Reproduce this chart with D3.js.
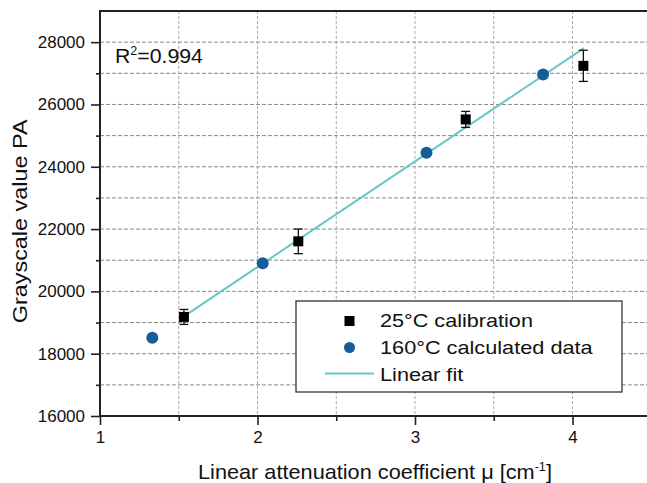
<!DOCTYPE html>
<html><head><meta charset="utf-8">
<script src="https://cdn.jsdelivr.net/npm/d3@7"></script>
<style>
html,body{margin:0;padding:0;background:#fff;}
svg{display:block;font-family:"Liberation Sans",Arial,sans-serif;}
</style></head>
<body><svg id="chart" width="647" height="483"></svg>
<script>
// Data
const calibX = [1.533, 2.259, 3.322, 4.069];
const calibY = [19180, 21606, 25520, 27240];
const calibErr = [240, 395, 257, 500];
const calcX = [1.332, 2.033, 3.073, 3.813];
const calcY = [18514, 20900, 24449, 26964];
const fitX = [1.533, 4.073];
const fitY = [19200, 27808];
const xTicks = [1, 2, 3, 4];
const yTicks = [16000, 18000, 20000, 22000, 24000, 26000, 28000];
const legendLabels = ["25°C calibration", "160°C calculated data", "Linear fit"];

const svg = d3.select("#chart");
const L = 100, T = 11, B = 416;
const x = d3.scaleLinear().domain([1, 4.5]).range([L, L + 3.5 * 157.5]);
const y = d3.scaleLinear().domain([16000, 29000]).range([B, T]);

function stretchText(sel, x0, y0, target, rotate) {
  const w = sel.node().getComputedTextLength();
  const sx = target / w;
  sel.attr("x", 0).attr("y", 0)
     .attr("transform", `translate(${x0},${y0})` + (rotate ? ` rotate(${rotate})` : "") + ` scale(${sx},1)`);
}

const gridColor = "#8a8a8a";
const g = svg.append("g");
d3.range(17000, 29000, 1000).forEach(v => {
  g.append("line").attr("x1", L).attr("x2", 647).attr("y1", y(v)).attr("y2", y(v))
   .attr("stroke", gridColor).attr("stroke-width", 1).attr("stroke-dasharray", "4,2");
});
[1.5, 2, 2.5, 3, 3.5, 4].forEach(v => {
  g.append("line").attr("x1", x(v)).attr("x2", x(v)).attr("y1", T).attr("y2", B)
   .attr("stroke", "#a8a8a8").attr("stroke-width", 1).attr("stroke-dasharray", "3,2");
});

const axisColor = "#222";
const yAxis = d3.axisLeft(y).tickValues(yTicks).tickSize(9).tickPadding(6).tickFormat(d3.format("d"));
const yMinor = d3.axisLeft(y).tickValues(d3.range(17000, 29000, 2000)).tickSize(4).tickFormat("");
const xAxis = d3.axisBottom(x).tickValues(xTicks).tickSize(9).tickPadding(6).tickFormat(d3.format("d"));
const xMinor = d3.axisBottom(x).tickValues([1.5, 2.5, 3.5]).tickSize(5).tickFormat("");

function styleAxis(sel) {
  sel.select(".domain").remove();
  sel.selectAll("line").attr("stroke", axisColor).attr("stroke-width", 1.6);
  sel.selectAll("text").attr("fill", "#111").style("font-size", "17px").style("font-family", "Liberation Sans, Arial, sans-serif");
}
svg.append("g").attr("transform", `translate(${L},0)`).call(yAxis).call(styleAxis);
svg.append("g").attr("transform", `translate(${L},0)`).call(yMinor).call(styleAxis);
svg.append("g").attr("transform", `translate(0,${B})`).call(xAxis).call(styleAxis);
svg.append("g").attr("transform", `translate(0,${B})`).call(xMinor).call(styleAxis);

svg.append("line").attr("x1", L).attr("x2", L).attr("y1", T).attr("y2", B).attr("stroke", axisColor).attr("stroke-width", 2);
svg.append("line").attr("x1", L - 1).attr("x2", 647).attr("y1", B).attr("y2", B).attr("stroke", axisColor).attr("stroke-width", 2);
svg.append("line").attr("x1", L - 1).attr("x2", 647).attr("y1", T).attr("y2", T).attr("stroke", axisColor).attr("stroke-width", 2);

const lineColor = "#66c7c5";
svg.append("path").datum(fitX.map((v, i) => [v, fitY[i]]))
  .attr("d", d3.line().x(d => x(d[0])).y(d => y(d[1])))
  .attr("fill", "none").attr("stroke", lineColor).attr("stroke-width", 2);

const eb = svg.append("g").attr("stroke", "#111").attr("stroke-width", 1.3);
calibX.forEach((v, i) => {
  const cx = x(v), y1 = y(calibY[i] + calibErr[i]), y2 = y(calibY[i] - calibErr[i]);
  eb.append("line").attr("x1", cx).attr("x2", cx).attr("y1", y1).attr("y2", y2);
  eb.append("line").attr("x1", cx - 4.5).attr("x2", cx + 4.5).attr("y1", y1).attr("y2", y1);
  eb.append("line").attr("x1", cx - 4.5).attr("x2", cx + 4.5).attr("y1", y2).attr("y2", y2);
});
svg.append("g").selectAll("rect").data(calibX).join("rect")
  .attr("x", (d) => x(d) - 5).attr("y", (d, i) => y(calibY[i]) - 5)
  .attr("width", 10).attr("height", 10).attr("fill", "#000");
const circColor = "#165d9c";
svg.append("g").selectAll("circle").data(calcX).join("circle")
  .attr("cx", d => x(d)).attr("cy", (d, i) => y(calcY[i])).attr("r", 6).attr("fill", circColor);

const r2 = svg.append("text").attr("fill", "#111").style("font-size", "20.5px");
r2.append("tspan").text("R");
r2.append("tspan").attr("dy", -8).style("font-size", "12px").text("2");
r2.append("tspan").attr("dy", 8).text("=0.994");
stretchText(r2, 115, 62.7, 88);

const lg = svg.append("g");
lg.append("rect").attr("x", 296).attr("y", 301).attr("width", 326).attr("height", 91)
  .attr("fill", "#fff").attr("stroke", "#333").attr("stroke-width", 1.3);
lg.append("rect").attr("x", 344.5).attr("y", 316).attr("width", 10).attr("height", 10).attr("fill", "#000");
lg.append("circle").attr("cx", 349.5).attr("cy", 347.5).attr("r", 5.5).attr("fill", circColor);
lg.append("line").attr("x1", 325).attr("x2", 374).attr("y1", 373.5).attr("y2", 373.5).attr("stroke", lineColor).attr("stroke-width", 2);
const legendWidths = [153, 212.7, 83.3];
const legendBase = [327, 353.5, 380.5];
legendLabels.forEach((t, i) => {
  const tx = lg.append("text").attr("fill", "#111").style("font-size", "18px").text(t);
  stretchText(tx, 380, legendBase[i], legendWidths[i]);
});

const yt = svg.append("text").attr("fill", "#111").style("font-size", "20.5px").text("Grayscale value PA");
stretchText(yt, 27, 323.3, 204, -90);
const xt = svg.append("text").attr("fill", "#111").style("font-size", "20.5px");
xt.append("tspan").text("Linear attenuation coefficient μ [cm");
xt.append("tspan").attr("dy", -8).style("font-size", "12px").text("-1");
xt.append("tspan").attr("dy", 8).text("]");
stretchText(xt, 198, 479, 354);
</script></body></html>
